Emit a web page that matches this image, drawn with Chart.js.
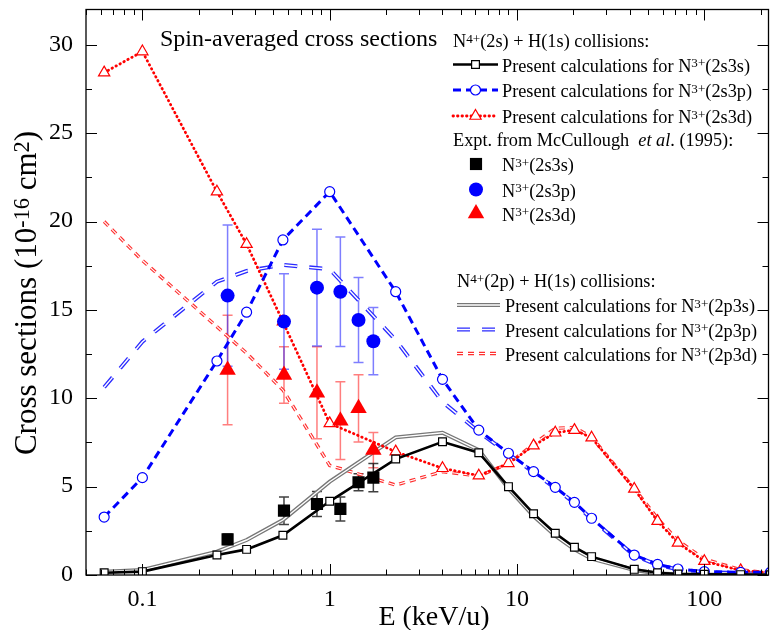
<!DOCTYPE html>
<html>
<head>
<meta charset="utf-8">
<script src="https://cdn.jsdelivr.net/npm/chart.js@4.4.1/dist/chart.umd.min.js"></script>
<style>
  html, body { margin: 0; padding: 0; background: #fff; }
  #wrap { width: 778px; height: 630px; }
</style>
</head>
<body>
<div id="wrap"><canvas id="xsec" width="778" height="630"></canvas></div>
<script>
// Impact energies (keV/u) of the calculated curves
const energy = [0.0625, 0.1, 0.25, 0.36, 0.5625, 1, 2.25, 4, 6.25, 9, 12.25, 16, 20.25, 25, 42.25, 56.25, 72.25, 100, 156.25, 225];

// N4+(2s) + H(1s): cross sections (1e-16 cm^2)
const calc2s3s = [0.13, 0.19, 1.13, 1.45, 2.25, 4.17, 6.56, 7.54, 6.92, 5.0, 3.47, 2.36, 1.57, 1.04, 0.32, 0.13, 0.06, 0.04, 0.02, 0.01];
const calc2s3p = [3.28, 5.51, 12.11, 14.87, 18.96, 21.69, 16.03, 11.07, 8.2, 6.89, 5.85, 4.96, 4.11, 3.21, 1.13, 0.6, 0.34, 0.19, 0.15, 0.15];
const calc2s3d = [28.43, 29.62, 21.69, 18.72, 14.34, 8.58, 6.98, 6.04, 5.62, 6.32, 7.32, 8.05, 8.2, 7.77, 4.87, 3.05, 1.82, 0.78, 0.26, 0.13];

// N4+(2p) + H(1s)
const calc2p3s = [0.19, 0.28, 1.32, 1.98, 3.11, 5.28, 7.79, 8.05, 7.07, 4.9, 3.34, 2.23, 1.45, 0.92, 0.28, 0.09, 0.04, 0.02, 0.01, 0.01];
const calc2p3p = [10.62, 13.2, 16.6, 17.2, 17.55, 17.3, 13.3, 9.8, 8.1, 6.85, 5.8, 4.92, 4.07, 3.17, 1.1, 0.57, 0.32, 0.17, 0.1, 0.08];
const calc2p3d = [20.0, 17.8, 14.05, 12.55, 10.47, 6.2, 5.09, 5.85, 5.6, 6.3, 7.4, 8.3, 8.35, 7.8, 4.9, 3.2, 1.95, 0.9, 0.3, 0.1];

// McCullough et al. (1995)
const exptEnergy = [0.285, 0.57, 0.855, 1.14, 1.425, 1.71];
const expt2s3s = [2.02, 3.64, 4.02, 3.74, 5.25, 5.51];
const expt2s3sErr = [0.3, 0.78, 0.71, 0.68, 0.48, 0.8];
const expt2s3p = [15.81, 14.34, 16.26, 16.03, 14.43, 13.23];
const expt2s3pErr = [4.0, 2.7, 3.3, 3.1, 2.4, 1.9];
const expt2s3d = [11.6, 11.32, 10.31, 8.73, 9.43, 7.07];
const expt2s3dErr = [3.1, 1.6, 2.6, 2.2, 1.9, 1.0];

const xTickValues = [0.1, 1, 10, 100];
const yTickValues = [0, 5, 10, 15, 20, 25, 30];

const FONT = '"Liberation Serif", "Times New Roman", serif';
const BLUE = '#0000ff';
const RED = '#ff0000';

const pts = (xs, ys) => xs.map((x, i) => ({ x, y: ys[i] }));

// line styles, shared by the plot and the legend samples
const style = {
  s3s: { borderColor: '#000', borderWidth: 2.6, borderDash: [],
         pointStyle: 'rect', pointRadius: 5.5, pointBorderWidth: 1.2,
         pointBorderColor: '#000', pointBackgroundColor: '#fff' },
  s3p: { borderColor: BLUE, borderWidth: 3, borderDash: [8, 5],
         pointStyle: 'circle', pointRadius: 5, pointBorderWidth: 1.2,
         pointBorderColor: BLUE, pointBackgroundColor: '#fff' },
  s3d: { borderColor: RED, borderWidth: 2.8, borderDash: [0.5, 4], borderCapStyle: 'round',
         pointStyle: 'triangle', pointRadius: 6.5, pointBorderWidth: 1.2,
         pointBorderColor: RED, pointBackgroundColor: '#fff' },
  p3sOuter: { borderColor: '#777', borderWidth: 4, borderDash: [] },
  p3sInner: { borderColor: '#fff', borderWidth: 1.4, borderDash: [] },
  p3pOuter: { borderColor: '#2a2aff', borderWidth: 4, borderDash: [13, 12] },
  p3pInner: { borderColor: '#fff', borderWidth: 1.4, borderDash: [13, 12] },
  p3dOuter: { borderColor: '#ff3030', borderWidth: 3.4, borderDash: [6, 5] },
  p3dInner: { borderColor: '#fff', borderWidth: 1.1, borderDash: [6, 5] }
};

function curve(label, ys, st) {
  return Object.assign({ label, data: pts(energy, ys), showLine: true, tension: 0,
    pointRadius: 0, fill: false }, st);
}

function expt(label, ys, errs, shape, radius, color, errColor) {
  return { label, data: pts(exptEnergy, ys), showLine: false, pointStyle: shape,
    pointRadius: radius, pointBorderWidth: 0, pointBackgroundColor: color,
    pointBorderColor: color, errors: errs, errorColor: errColor };
}

// first dataset is painted last (on top)
const datasets = [
  expt('Expt 2s3d', expt2s3d, expt2s3dErr, 'triangle', 9.5, RED, 'rgba(255,40,40,0.6)'),
  expt('Expt 2s3p', expt2s3p, expt2s3pErr, 'circle', 7, BLUE, 'rgba(40,40,255,0.6)'),
  expt('Expt 2s3s', expt2s3s, expt2s3sErr, 'rect', 8.6, '#000', 'rgba(0,0,0,0.75)'),
  curve('2s3s', calc2s3s, style.s3s),
  curve('2s3p', calc2s3p, style.s3p),
  curve('2s3d', calc2s3d, style.s3d),
  curve('2p3s in', calc2p3s, style.p3sInner),
  curve('2p3s', calc2p3s, style.p3sOuter),
  curve('2p3p in', calc2p3p, style.p3pInner),
  curve('2p3p', calc2p3p, style.p3pOuter),
  curve('2p3d in', calc2p3d, style.p3dInner),
  curve('2p3d', calc2p3d, style.p3dOuter)
];

// --- text with superscripts / italics: parts = [[text, kind], ...]
function setFont(ctx, kind, size) {
  const s = kind === 'sup' ? size * 0.72 : size;
  ctx.font = (kind === 'i' ? 'italic ' : '') + s + 'px ' + FONT;
}
function richWidth(ctx, parts, size) {
  let w = 0;
  for (const [t, k] of parts) { setFont(ctx, k, size); w += ctx.measureText(t).width; }
  return w;
}
function drawRich(ctx, x, y, parts, size) {
  ctx.textAlign = 'left';
  ctx.textBaseline = 'alphabetic';
  let cx = x;
  for (const [t, k] of parts) {
    setFont(ctx, k, size);
    ctx.fillText(t, cx, k === 'sup' ? y - size * 0.24 : y);
    cx += ctx.measureText(t).width;
  }
}

function drawSample(ctx, st, x0, x1, y) {
  ctx.save();
  ctx.strokeStyle = st.borderColor;
  ctx.lineWidth = st.borderWidth;
  ctx.setLineDash(st.borderDash || []);
  ctx.lineCap = st.borderCapStyle || 'butt';
  ctx.beginPath(); ctx.moveTo(x0, y); ctx.lineTo(x1, y); ctx.stroke();
  ctx.restore();
  if (st.pointStyle) {
    ctx.save();
    ctx.fillStyle = st.pointBackgroundColor;
    ctx.strokeStyle = st.pointBorderColor;
    ctx.lineWidth = st.pointBorderWidth;
    Chart.helpers.drawPoint(ctx, { pointStyle: st.pointStyle, radius: st.pointRadius,
      borderWidth: st.pointBorderWidth, rotation: 0 }, (x0 + x1) / 2, y);
    ctx.restore();
  }
}
function drawMarker(ctx, shape, radius, color, x, y) {
  ctx.save();
  ctx.fillStyle = color; ctx.strokeStyle = color;
  Chart.helpers.drawPoint(ctx, { pointStyle: shape, radius, borderWidth: 0, rotation: 0 }, x, y);
  ctx.restore();
}

const errorBars = {
  id: 'errorBars',
  beforeDatasetsDraw(chart) {
    const ctx = chart.ctx, ys = chart.scales.y;
    chart.data.datasets.forEach((ds, i) => {
      if (!ds.errors) return;
      const meta = chart.getDatasetMeta(i);
      ctx.save();
      ctx.strokeStyle = ds.errorColor;
      ctx.lineWidth = 1.5;
      meta.data.forEach((pt, j) => {
        const v = ds.data[j].y, e = ds.errors[j];
        const top = ys.getPixelForValue(v + e), bot = ys.getPixelForValue(v - e);
        ctx.beginPath();
        ctx.moveTo(pt.x, top); ctx.lineTo(pt.x, bot);
        ctx.moveTo(pt.x - 5, top); ctx.lineTo(pt.x + 5, top);
        ctx.moveTo(pt.x - 5, bot); ctx.lineTo(pt.x + 5, bot);
        ctx.stroke();
      });
      ctx.restore();
    });
  }
};

// frame, inward ticks, tick labels, axis titles and the legend
const decorations = {
  id: 'decorations',
  afterDraw(chart) {
    const ctx = chart.ctx, a = chart.chartArea;
    const xs = chart.scales.x, ys = chart.scales.y;
    ctx.save();
    ctx.strokeStyle = '#000';
    ctx.lineWidth = 1.3;
    ctx.strokeRect(a.left, a.top, a.right - a.left, a.bottom - a.top);

    ctx.lineWidth = 1;
    ctx.beginPath();
    for (let d = 0.01; d <= 1000; d *= 10) {
      for (let m = 1; m <= 9; m++) {
        const v = m * d;
        if (v < xs.min || v > xs.max) continue;
        const px = Math.round(xs.getPixelForValue(v)) + 0.5;
        const len = m === 1 ? 11 : 5.5;
        ctx.moveTo(px, a.bottom); ctx.lineTo(px, a.bottom - len);
        ctx.moveTo(px, a.top); ctx.lineTo(px, a.top + len);
      }
    }
    for (let v = 0; v <= ys.max; v += 2.5) {
      const py = Math.round(ys.getPixelForValue(v)) + 0.5;
      const len = v % 5 === 0 ? 11 : 6;
      ctx.moveTo(a.left, py); ctx.lineTo(a.left + len, py);
      ctx.moveTo(a.right, py); ctx.lineTo(a.right - len, py);
    }
    ctx.stroke();

    // tick labels
    ctx.fillStyle = '#000';
    ctx.font = '24px ' + FONT;
    ctx.textAlign = 'right';
    ctx.textBaseline = 'middle';
    for (const t of ys.ticks) ctx.fillText(String(t.value), a.left - 13, ys.getPixelForValue(t.value) - 0.5);
    ctx.textAlign = 'center';
    ctx.textBaseline = 'alphabetic';
    for (const t of xs.ticks) ctx.fillText(String(t.value), xs.getPixelForValue(t.value), 606);

    // axis titles
    ctx.font = '28px ' + FONT;
    ctx.fillText('E (keV/u)', 434, 625);
    const yTitle = [['Cross sections (10', ''], ['-16', 'sup'], [' cm', ''], ['2', 'sup'], [')', '']];
    ctx.save();
    ctx.translate(36, 293);
    ctx.rotate(-Math.PI / 2);
    drawRich(ctx, -richWidth(ctx, yTitle, 31) / 2, 0, yTitle, 31);
    ctx.restore();

    // legend
    ctx.font = '24px ' + FONT;
    ctx.textAlign = 'left';
    ctx.fillText('Spin-averaged cross sections', 160, 46);

    const L = 18.3;
    drawRich(ctx, 453, 47, [['N', ''], ['4+', 'sup'], ['(2s) + H(1s) collisions:', '']], L);
    const rows1 = [[style.s3s, '(2s3s)', 64.5], [style.s3p, '(2s3p)', 90], [style.s3d, '(2s3d)', 116]];
    for (const [st, tag, y] of rows1) {
      drawSample(ctx, st, 453, 498, y);
      drawRich(ctx, 502, y + 7, [['Present calculations for N', ''], ['3+', 'sup'], [tag, '']], L);
    }
    drawRich(ctx, 453, 146, [['Expt. from McCullough  ', ''], ['et al', 'i'], ['. (1995):', '']], L);
    const rows2 = [['rect', 8.6, '#000', '(2s3s)', 164], ['circle', 7, BLUE, '(2s3p)', 189.5], ['triangle', 9.5, RED, '(2s3d)', 213.5]];
    for (const [shape, r, c, tag, y] of rows2) {
      drawMarker(ctx, shape, r, c, 476, y);
      drawRich(ctx, 502, y + 7, [['N', ''], ['3+', 'sup'], [tag, '']], L);
    }

    drawRich(ctx, 457, 287, [['N', ''], ['4+', 'sup'], ['(2p) + H(1s) collisions:', '']], L);
    const rows3 = [[[style.p3sOuter, style.p3sInner], '(2p3s)', 305], [[style.p3pOuter, style.p3pInner], '(2p3p)', 329.5],
                   [[style.p3dOuter, style.p3dInner], '(2p3d)', 353.5]];
    for (const [sts, tag, y] of rows3) {
      for (const st of sts) drawSample(ctx, st, 457, 500, y);
      drawRich(ctx, 505, y + 7, [['Present calculations for N', ''], ['3+', 'sup'], [tag, '']], L);
    }
    ctx.restore();
  }
};

new Chart(document.getElementById('xsec'), {
  type: 'line',
  data: { datasets },
  options: {
    responsive: false,
    animation: false,
    devicePixelRatio: 1,
    layout: { padding: { top: 9, right: 1, left: 0, bottom: 0 } },
    plugins: { legend: { display: false }, tooltip: { enabled: false } },
    scales: {
      x: {
        type: 'logarithmic',
        min: 0.05,
        max: 220,
        afterFit: s => { s.height = 55; s.paddingLeft = 0; s.paddingRight = 0; },
        afterBuildTicks: s => { s.ticks = xTickValues.map(v => ({ value: v })); },
        grid: { display: false, drawTicks: false },
        border: { display: false },
        ticks: { display: false }
      },
      y: {
        type: 'linear',
        min: 0,
        max: 32,
        afterFit: s => { s.width = 86; s.paddingTop = 0; s.paddingBottom = 0; },
        afterBuildTicks: s => { s.ticks = yTickValues.map(v => ({ value: v })); },
        grid: { display: false, drawTicks: false },
        border: { display: false },
        ticks: { display: false }
      }
    }
  },
  plugins: [errorBars, decorations]
});
</script>
</body>
</html>
